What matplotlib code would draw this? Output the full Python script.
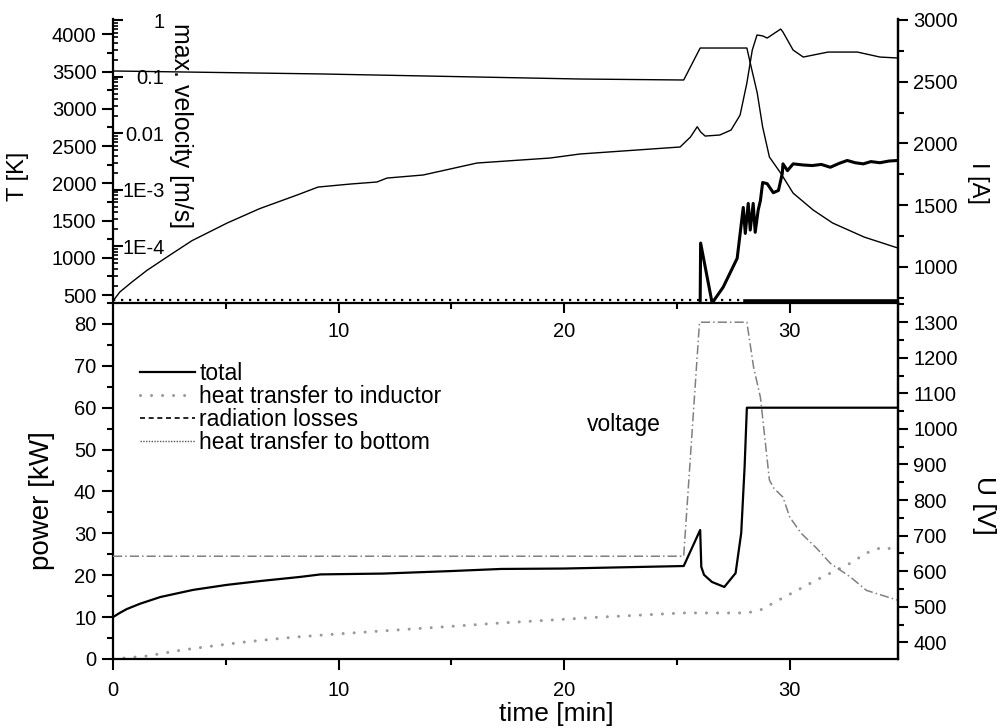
import numpy as np
import matplotlib
matplotlib.use("Agg")
import matplotlib.pyplot as plt
from matplotlib.ticker import FixedLocator, FixedFormatter, MultipleLocator, LogLocator, NullFormatter

plt.rcParams["font.family"] = ["Liberation Sans", "DejaVu Sans"]

# ---- top panel: temperature, current, max. velocity ----
T_t = [0, 0.3, 0.84, 1.5, 2.39, 3.5, 5.06, 6.5, 8.16, 9.09, 10.5, 11.7, 12.15, 13.75,
       16.14, 19.38, 20.7, 25.14, 25.6, 25.9, 26.05, 26.25, 26.9, 27.4, 27.8, 28.1,
       28.34, 28.55, 28.8, 29.0, 29.6, 29.7, 30.15, 30.6, 31.7, 33.0, 34.0, 34.8]
T_K = [420, 540, 675, 830, 1010, 1230, 1467, 1660, 1843, 1950, 1990, 2018, 2071, 2112,
       2273, 2340, 2394, 2488, 2622, 2760, 2690, 2635, 2649, 2716, 2917, 3347,
       3790, 3992, 3980, 3951, 4072, 4032, 3790, 3696, 3763, 3763, 3696, 3683]

I_t = [0, 9.2, 20.7, 25.3, 26.03, 28.1, 28.25, 28.56, 28.8, 29.1, 29.6, 30.15,
       31.04, 31.9, 33.3, 34.8]
I_A = [2587, 2563, 2522, 2514, 2773, 2773, 2652, 2409, 2133, 1890, 1760, 1598,
       1461, 1356, 1242, 1153]

v_t = [26.03, 26.05, 26.56, 27.05, 27.67, 27.94, 28.03, 28.16, 28.25, 28.38, 28.47,
       28.6, 28.7, 28.8, 29.0, 29.27, 29.5, 29.67, 29.7, 29.9, 30.15, 30.6, 31.0,
       31.4, 31.8, 32.2, 32.55, 32.9, 33.26, 33.6, 34.0, 34.4, 34.8]
v_log = [-5.0, -3.94, -5.0, -4.72, -4.21, -3.31, -3.77, -3.24, -3.71, -3.24, -3.75,
         -3.36, -3.19, -2.87, -2.89, -3.05, -3.01, -2.71, -2.54, -2.66, -2.54, -2.56, -2.57,
         -2.55, -2.6, -2.53, -2.48, -2.52, -2.54, -2.5, -2.52, -2.49, -2.48]
v_ms = [10 ** p for p in v_log]

vfloor_t = [0, 28.0]
vfloor = [1.12e-5, 1.12e-5]
vfloor2_t = [28.0, 34.8]
vfloor2 = [1.1e-5, 1.1e-5]

# ---- bottom panel: power and voltage ----
P_t = [0, 0.3, 0.6, 1.2, 2.1, 3.55, 5.05, 6.5, 8.3, 9.2, 12, 15, 17.2, 20, 25.3,
       26.03, 26.08, 26.2, 26.55, 27.1, 27.6, 27.85, 28.0, 28.1, 34.8]
P_total = [10.0, 11.0, 11.9, 13.2, 14.8, 16.5, 17.7, 18.6, 19.6, 20.2, 20.4, 21.0,
           21.5, 21.6, 22.2, 30.8, 22.0, 20.1, 18.4, 17.2, 20.5, 30.1, 45.9, 60.0, 60.0]

ind_t = [0, 1.5, 3.0, 4.4, 5.9, 8.0, 10, 15, 17.2, 21.6, 25.3, 28.1, 28.7, 29.7,
         31.2, 32.7, 33.4, 34.1, 34.8]
P_ind = [0, 0.7, 2.1, 3.1, 4.1, 5.2, 6.0, 7.8, 8.6, 10.0, 11.0, 11.0, 11.7, 14.6,
         18.9, 22.9, 25.3, 26.7, 26.0]

zero_t = [0, 34.8]
P_rad = [0, 0]
P_bottom = [0, 0]

U_t = [0, 25.3, 26.0, 28.1, 28.4, 28.7, 29.1, 29.3, 29.7, 30.0, 30.5, 31.2, 31.8,
       32.7, 33.4, 34.8]
U_V = [642, 642, 1300, 1300, 1173, 1089, 856, 833, 808, 752, 707, 664, 622,
       583, 546, 518]

W, H = 1001, 728
fig = plt.figure(figsize=(W / 100, H / 100), dpi=100)

L, R = 113 / W, 898 / W
ax_top = fig.add_axes([L, 1 - 303 / H, R - L, (303 - 19) / H])
ax_bot = fig.add_axes([L, 1 - 659 / H, R - L, (659 - 303) / H])
for a in (ax_top, ax_bot):
    a.set_facecolor("none")
ax_top.set_zorder(3)

ax_I = ax_top.twinx()
ax_v = ax_top.twinx()
ax_U = ax_bot.twinx()

tick_fs = 14.5
spine_w = 1.6

def style_spines(a, visible):
    for name, sp in a.spines.items():
        sp.set_visible(name in visible)
        sp.set_linewidth(spine_w)

style_spines(ax_top, ["left", "bottom", "right"])
style_spines(ax_I, ["right"])
style_spines(ax_v, [])
style_spines(ax_bot, ["left", "bottom", "right"])
style_spines(ax_U, ["right"])

# top panel lines
ax_top.plot(T_t, T_K, color="black", lw=1.0)
ax_I.plot(I_t, I_A, color="black", lw=1.0)
ax_v.plot(v_t, v_ms, color="black", lw=2.2)
ax_v.plot(vfloor_t, vfloor, color="black", lw=1.6, linestyle=(0, (1, 2.6)))
ax_v.plot(vfloor2_t, vfloor2, color="black", lw=2.6)

ax_top.set_xlim(0, 34.8)
ax_top.set_ylim(393, 4207)
ax_I.set_ylim(708, 3008)
ax_v.set_yscale("log")
ax_v.set_ylim(1e-5, 1.05)

ax_top.yaxis.set_major_locator(MultipleLocator(500))
ax_top.yaxis.set_minor_locator(MultipleLocator(250))
ax_top.xaxis.set_major_locator(FixedLocator([10, 20, 30]))
ax_top.xaxis.set_minor_locator(FixedLocator([5, 15, 25]))
ax_top.tick_params(axis="y", which="major", direction="out", length=8, width=1.5,
                   labelsize=tick_fs, pad=4)
ax_top.tick_params(axis="y", which="minor", direction="out", length=4, width=1.5)
ax_top.tick_params(axis="x", which="major", direction="out", length=7, width=1.5,
                   labelsize=tick_fs, pad=7)
ax_top.tick_params(axis="x", which="minor", direction="out", length=4, width=1.5)

ax_I.yaxis.set_major_locator(MultipleLocator(500))
ax_I.yaxis.set_minor_locator(MultipleLocator(250))
ax_I.tick_params(axis="y", which="major", direction="out", length=7, width=1.5,
                 labelsize=tick_fs, pad=4)
ax_I.tick_params(axis="y", which="minor", direction="out", length=4, width=1.5)

ax_v.yaxis.tick_left()
ax_v.yaxis.set_major_locator(FixedLocator([1e-4, 1e-3, 1e-2, 1e-1, 1]))
ax_v.yaxis.set_major_formatter(FixedFormatter(["1E-4", "1E-3", "0.01", "0.1", "1"]))
ax_v.yaxis.set_minor_locator(LogLocator(base=10, subs=np.arange(2, 10)))
ax_v.yaxis.set_minor_formatter(NullFormatter())
ax_v.tick_params(axis="y", which="major", direction="in", length=7, width=1.5,
                 labelsize=tick_fs, pad=-37)
ax_v.tick_params(axis="y", which="minor", direction="in", length=3.5, width=1.2)

# bottom panel lines
ax_bot.plot(P_t, P_total, color="black", lw=1.6, label="total")
ax_bot.plot(ind_t, P_ind, color="#9a9a9a", lw=2.2, linestyle=(0, (0.01, 3.6)),
            dash_capstyle="round", label="heat transfer to inductor")
ax_bot.plot(zero_t, P_rad, color="black", lw=1.2, linestyle=(0, (3, 2.2)),
            label="radiation losses")
ax_bot.plot(zero_t, P_bottom, color="#555555", lw=1.0, linestyle=(0, (1, 1)),
            label="heat transfer to bottom")
ax_U.plot(U_t, U_V, color="#808080", lw=1.1, linestyle=(0, (6, 2, 1, 2)))

ax_bot.set_xlim(0, 34.8)
ax_bot.set_ylim(0, 85)
ax_U.set_ylim(353, 1354)

ax_bot.xaxis.set_major_locator(MultipleLocator(10))
ax_bot.xaxis.set_minor_locator(MultipleLocator(5))
ax_bot.yaxis.set_major_locator(MultipleLocator(10))
ax_bot.yaxis.set_minor_locator(MultipleLocator(5))
ax_bot.tick_params(which="major", direction="out", length=8, width=1.5,
                   labelsize=tick_fs, pad=4)
ax_bot.tick_params(axis="x", which="major", pad=8)
ax_bot.tick_params(which="minor", direction="out", length=4, width=1.5)

ax_U.yaxis.set_major_locator(MultipleLocator(100))
ax_U.yaxis.set_minor_locator(MultipleLocator(50))
ax_U.tick_params(axis="y", which="major", direction="out", length=7, width=1.5,
                 labelsize=tick_fs, pad=4)
ax_U.tick_params(axis="y", which="minor", direction="out", length=4, width=1.5)

ax_bot.text(21, 56, "voltage", fontsize=16.5, ha="left", va="center")

leg = ax_bot.legend(loc="upper left", bbox_to_anchor=(0.034, 0.835), frameon=False,
                    fontsize=16.5, handlelength=2.4, handletextpad=0.2,
                    labelspacing=0.0, borderpad=0, borderaxespad=0)

# axis titles
fig.text(18 / W, 1 - 176 / H, "T [K]", rotation=90, fontsize=17, ha="center", va="center")
fig.text(181 / W, 1 - 126 / H, "max. velocity [m/s]", rotation=-90, fontsize=18,
         ha="center", va="center")
fig.text(978 / W, 1 - 183 / H, "I [A]", rotation=-90, fontsize=17, ha="center", va="center")
fig.text(42 / W, 1 - 501 / H, "power [kW]", rotation=90, fontsize=20, ha="center", va="center")
fig.text(984 / W, 1 - 505 / H, "U [V]", rotation=-90, fontsize=19, ha="center", va="center")
fig.text(556 / W, 1 - 714 / H, "time [min]", fontsize=19, ha="center", va="center")

fig.savefig("out.png", dpi=100)
